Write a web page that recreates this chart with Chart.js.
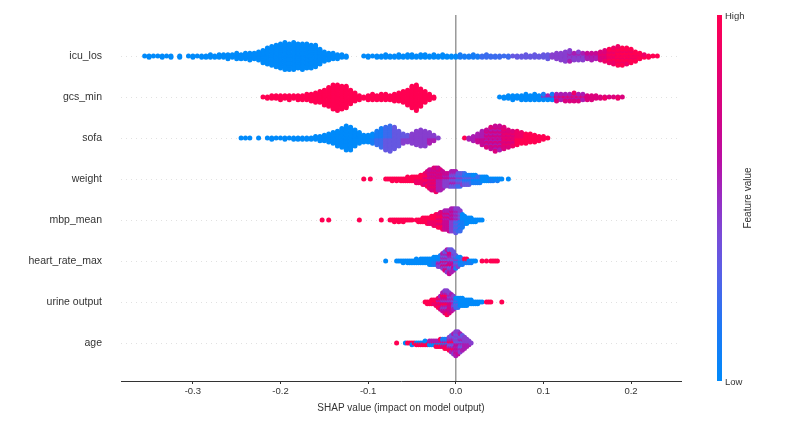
<!DOCTYPE html>
<html>
<head>
<meta charset="utf-8">
<script src="https://cdn.jsdelivr.net/npm/chart.js@4.4.0/dist/chart.umd.min.js"></script>
<style>
  html, body { margin: 0; padding: 0; background: #fff; }
  canvas { display: block; }
</style>
</head>
<body>
<canvas id="grafico" width="800" height="431"></canvas>
<script>
// ======= DADOS =======
// features, top to bottom
const featureNames = ["icu_los", "gcs_min", "sofa", "weight", "mbp_mean", "heart_rate_max", "urine output", "age"];
// SHAP value of first bin and bin width per feature
const binStart = [-0.355, -0.22, -0.245, -0.105, -0.1525, -0.08, -0.035, -0.0675];
const binStep = [0.005, 0.005, 0.005, 0.0025, 0.0025, 0.0025, 0.0025, 0.0025];
const xTicks = [-0.3, -0.2, -0.1, 0.0, 0.1, 0.2];

// number of samples per SHAP bin
const icuLosCounts = [
  1,2,1,1,2,1,2,0,2,0, 1,2,1,2,2,3,2,3,3,4, 3,5,4,5,6,5,7,10,13,15,
  17,19,21,20,21,19,20,19,18,17, 12,8,6,5,4,3,2,0,0,0, 1,2,1,2,2,3,2,2,3,2,
  3,3,2,3,3,2,3,2,3,2, 2,2,3,2,2,3,2,2,3,2, 2,2,1,2,1,2,2,3,2,3,
  2,3,4,3,5,6,8,9,6,7, 6,5,6,5,7,9,11,13,15,14, 13,11,8,5,3,2,1,1
];
const gcsMinCounts = [
  1,2,3,3,4,3,4,3,4,4, 5,6,8,9,12,15,19,20,18,17, 11,7,4,2,4,5,4,5,5,4,
  6,7,9,12,17,20,14,9,5,2, 0,0,0,0,0,0,0,0,0,0, 0,0,0,0,1,2,3,4,3,4,
  5,4,5,4,5,4,5,6,5,6, 6,7,6,5,4,4,3,2,2,1, 1,2,1
];
const sofaCounts = [
  1,1,1,0,1,0,1,2,1,1, 2,1,2,2,2,2,2,3,4,5, 7,9,12,15,19,18,13,9,6,6,
  8,11,15,18,20,17,12,8,6,8, 11,13,12,9,5,1,0,0,0,0, 0,1,2,4,7,11,14,17,20,19,
  17,14,12,11,9,8,7,6,4,3, 1
];
const weightCounts = [
  1,0,0,1,0,0,0,0,0,0, 1,1,1,2,1,2,1,2,2,2, 3,2,3,3,4,4,5,6,7,9,
  11,12,13,14,13,12,10,8,7,8, 9,9,9,8,8,7,7,6,6,5, 5,5,4,4,3,3,3,2,2,2,
  1,2,1,1,0,0,1
];
const mbpMeanCounts = [
  1,0,0,1,0,0,0,0,0,0, 0,0,0,0,0,0,0,1,0,0, 0,0,0,0,0,0,0,1,0,0,
  0,1,1,2,1,2,1,2,1,1, 1,1,0,1,2,2,3,3,4,4, 5,6,7,8,9,10,11,11,12,13,
  13,14,13,12,8,5,4,3,3,2, 2,1,1,1
];
const heartRateMaxCounts = [
  1,0,0,0,0,1,1,1,2,1, 2,2,2,2,3,2,3,3,3,3, 4,4,5,5,6,7,9,11,13,14,
  13,11,8,6,5,4,3,3,2,2, 1,1,0,0,1,0,1,0,1,1, 1,1
];
const urineOutputCounts = [
  1,2,2,3,3,4,6,8,11,13, 14,12,10,8,6,6,5,5,4,4, 3,3,2,2,2,1,1,0,1,1,
  1,0,0,0,0,1
];
const ageCounts = [
  1,0,0,0,1,1,1,2,1,2, 2,2,2,3,2,3,3,3,4,4, 5,5,6,6,8,10,12,14,13,11,
  9,7,5,3,1
];

// feature value colour (0 = low ... 9 = high) from a SHAP value onward; strings cycle inside a bin
const icuLosColors = [[-0.4,"0"],[0.003,"1"],[0.03,"2"],[0.065,"3"],[0.11,"4"],[0.13,"454"],[0.15,"565"],[0.165,"787"],[0.175,"898"],[0.185,"998"]];
const gcsMinColors = [[-0.4,"9"],[0.04,"0"],[0.1,"015"],[0.115,"5785"],[0.15,"7"],[0.17,"78"]];
const sofaColors = [[-0.4,"0"],[-0.095,"01"],[-0.09,"12"],[-0.08,"23"],[-0.07,"3"],[-0.06,"34"],[-0.05,"4"],[-0.03,"45"],
  [0.005,"959"],[0.015,"5"],[0.025,"56"],[0.035,"675"],[0.055,"778"],[0.07,"89"],[0.08,"9"]];
const weightColors = [[-0.4,"9"],[-0.045,"98"],[-0.035,"897"],[-0.03,"7867"],[-0.02,"6575"],[-0.0125,"5464"],[-0.005,"435"],
  [0.0025,"324"],[0.01,"213"],[0.02,"102"],[0.03,"0"],[0.04,"01"],[0.05,"0"]];
const mbpMeanColors = [[-0.4,"9"],[-0.03,"98"],[-0.02,"897"],[-0.0125,"7656"],[-0.006,"5464"],[-0.001,"4352"],[0.004,"3142"],[0.0075,"01"],[0.012,"0"]];
const heartRateMaxColors = [[-0.4,"0"],[-0.025,"01"],[-0.02,"0415"],[-0.015,"5734"],[-0.0075,"75364"],[-0.0025,"4536"],[0.0,"314"],[0.005,"102"],[0.01,"0190"],[0.025,"9"]];
const urineOutputColors = [[-0.4,"9"],[-0.025,"98"],[-0.02,"8957"],[-0.015,"57496"],[-0.0075,"5647"],[-0.003,"453"],[0.0,"302"],[0.005,"0"],[0.033,"9"]];
const ageColors = [[-0.4,"9"],[-0.06,"0"],[-0.055,"909"],[-0.045,"090"],[-0.03,"9059"],[-0.015,"90571"],[-0.0075,"54935"],[-0.002,"4536"],[0.003,"453"],[0.008,"45"]];

// shap red_blue colormap stops
const corStops = [
  [0.0, [0, 138, 250]], [0.15, [30, 120, 245]], [0.3, [90, 95, 230]], [0.4, [122, 75, 215]],
  [0.5, [152, 45, 195]], [0.6, [185, 15, 165]], [0.7, [205, 5, 140]], [0.85, [232, 0, 110]], [1.0, [255, 0, 82]]
];

// ======= MONTAGEM =======
const contagens = [icuLosCounts, gcsMinCounts, sofaCounts, weightCounts, mbpMeanCounts, heartRateMaxCounts, urineOutputCounts, ageCounts];
const faixasCor = [icuLosColors, gcsMinColors, sofaColors, weightColors, mbpMeanColors, heartRateMaxColors, urineOutputColors, ageColors];

function mapaCor(t) {
  for (let i = 1; i < corStops.length; i++) {
    const [t1, c1] = corStops[i];
    const [t0, c0] = corStops[i - 1];
    if (t <= t1 + 1e-9) {
      const k = (t - t0) / (t1 - t0);
      const c = c0.map((v, j) => Math.round(v + (c1[j] - v) * k));
      return `rgb(${c[0]},${c[1]},${c[2]})`;
    }
  }
  return "rgb(255,0,82)";
}

function padraoNoValor(faixas, v) {
  let p = faixas[0][1];
  faixas.forEach(([ini, s]) => { if (v >= ini - 1e-9) p = s; });
  return p;
}

const pontos = [];
const cores = [];
featureNames.forEach((nome, f) => {
  const cont = contagens[f];
  const maxMeio = Math.max(...cont.map(c => Math.floor(c / 2)));
  const escala = 0.9 * 0.4 / (maxMeio + 1);
  cont.forEach((c, b) => {
    const v = binStart[f] + b * binStep[f];
    const padrao = padraoNoValor(faixasCor[f], v);
    for (let j = 0; j < c; j++) {
      const camada = Math.ceil(j / 2) * (j % 2 ? 1 : -1);
      pontos.push({ x: v, y: f + camada * escala });
      cores.push(mapaCor(+padrao[j % padrao.length] / 9));
    }
  });
});

// ======= GRÁFICO =======
const fonte = "'Liberation Sans', Arial, sans-serif";
Chart.defaults.font.family = fonte;

const fundo = {
  id: "fundo",
  beforeDatasetsDraw(chart) {
    const { ctx, chartArea: a, scales: { x, y } } = chart;
    ctx.save();
    ctx.strokeStyle = "#cccccc";
    ctx.lineWidth = 0.6;
    ctx.setLineDash([1, 4]);
    featureNames.forEach((n, i) => {
      const py = Math.round(y.getPixelForValue(i)) + 0.5;
      ctx.beginPath(); ctx.moveTo(a.left, py); ctx.lineTo(a.right, py); ctx.stroke();
    });
    ctx.setLineDash([]);
    const px = x.getPixelForValue(0);
    ctx.strokeStyle = "#999999";
    ctx.lineWidth = 1.5;
    ctx.beginPath(); ctx.moveTo(px, a.top); ctx.lineTo(px, a.bottom); ctx.stroke();
    ctx.restore();
  },
  afterDraw(chart) {
    // colorbar
    const { ctx, chartArea: a } = chart;
    const bx = a.right + 36, bw = 5;
    const grad = ctx.createLinearGradient(0, a.bottom, 0, a.top);
    corStops.forEach(([t, c]) => grad.addColorStop(t, `rgb(${c[0]},${c[1]},${c[2]})`));
    ctx.save();
    ctx.fillStyle = grad;
    ctx.fillRect(bx, a.top, bw, a.bottom - a.top);
    ctx.fillStyle = "#333333";
    ctx.font = `9.5px ${fonte}`;
    ctx.textAlign = "left";
    ctx.textBaseline = "middle";
    ctx.fillText("High", bx + bw + 3, a.top + 1);
    ctx.fillText("Low", bx + bw + 3, a.bottom + 1);
    ctx.translate(bx + 31, (a.top + a.bottom) / 2);
    ctx.rotate(-Math.PI / 2);
    ctx.textAlign = "center";
    ctx.font = `10px ${fonte}`;
    ctx.fillText("Feature value", 0, 0);
    ctx.restore();
  }
};

new Chart(document.getElementById("grafico"), {
  type: "scatter",
  data: {
    datasets: [{
      data: pontos,
      pointBackgroundColor: cores,
      pointBorderWidth: 0,
      pointRadius: 2.5,
      pointHoverRadius: 2.5,
      showLine: false
    }]
  },
  options: {
    responsive: false,
    animation: false,
    layout: { padding: { left: 0, right: 119, top: 15, bottom: 0 } },
    plugins: { legend: { display: false }, tooltip: { enabled: false } },
    scales: {
      x: {
        type: "linear", min: -0.382, max: 0.257,
        afterBuildTicks: s => { s.ticks = xTicks.map(v => ({ value: v })); },
        afterFit: s => { s.height = 50; s.paddingLeft = 0; s.paddingRight = 0; },
        ticks: { callback: v => v.toFixed(1), font: { size: 9.5 }, color: "#333333", padding: 2, maxRotation: 0, autoSkip: false },
        grid: { drawOnChartArea: false, drawTicks: true, tickLength: 3, color: "#333333", lineWidth: 1 },
        border: { display: true, color: "#333333", width: 1 },
        title: { display: true, text: "SHAP value (impact on model output)", font: { size: 10 }, color: "#333333", padding: { top: 0, bottom: 17 } }
      },
      y: {
        type: "linear", min: -1, max: 7.93, reverse: true,
        afterBuildTicks: s => { s.ticks = featureNames.map((n, i) => ({ value: i })); },
        afterFit: s => { s.width = 121; s.paddingTop = 0; s.paddingBottom = 0; },
        ticks: { callback: (v, i) => featureNames[i], font: { size: 10.5 }, color: "#333333", padding: 19, autoSkip: false },
        grid: { display: false, drawTicks: false },
        border: { display: false }
      }
    }
  },
  plugins: [fundo]
});
</script>
</body>
</html>
